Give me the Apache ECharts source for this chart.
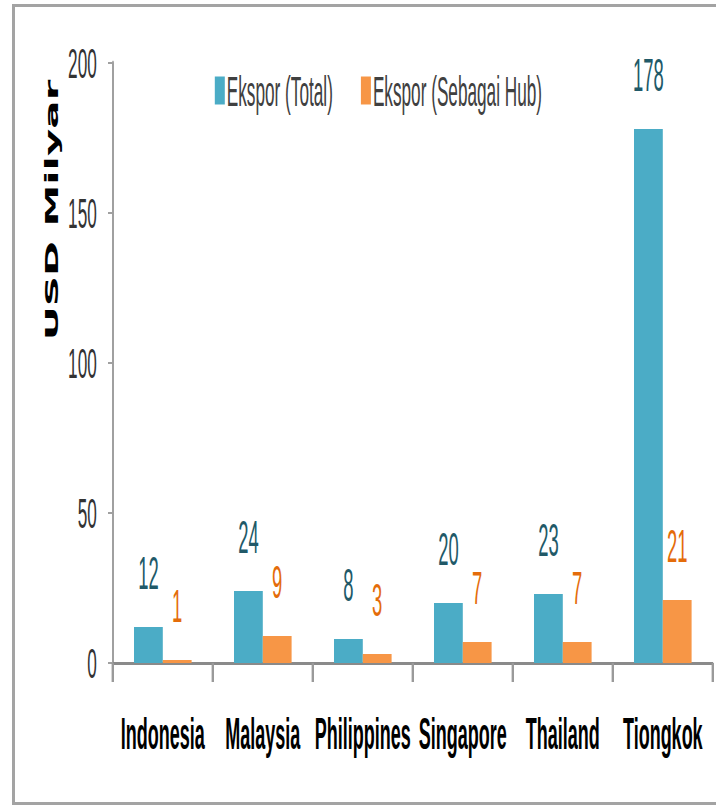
<!DOCTYPE html>
<html>
<head>
<meta charset="utf-8">
<script src="https://cdn.jsdelivr.net/npm/echarts/dist/echarts.min.js"></script>
<style>
  html, body { margin: 0; padding: 0; background: #fff; overflow: hidden; }
  #frame {
    position: absolute; left: 12px; top: 4px; width: 730px; height: 795px;
    border: 3px solid #a3a3a3; box-sizing: content-box;
  }
  /* the reference picture is squeezed horizontally, so the chart is drawn wider and scaled down */
  #chart {
    position: absolute; left: 0; top: 0; width: 1790px; height: 806px;
    transform: scaleX(0.4); transform-origin: 0 0;
  }
</style>
</head>
<body>
<div id="frame"></div>
<div id="chart"></div>
<script>
var categories = ['Indonesia', 'Malaysia', 'Philippines', 'Singapore', 'Thailand', 'Tiongkok']
var eksporTotal = [12, 24, 8, 20, 23, 178]
var eksporHub = [1, 9, 3, 7, 7, 21]
var seriesNames = ['Ekspor (Total)', 'Ekspor (Sebagai Hub)']
var yMin = 0
var yMax = 200
var yStep = 50

var sans = "'Liberation Sans', Arial, sans-serif"

var myChart = echarts.init(document.getElementById('chart'), null, { renderer: 'svg' })

var option = {
  animation: false,
  color: ['#4bacc6', '#f79646'],
  grid: { left: 282, right: 8, top: 63, bottom: 143, containLabel: false },
  legend: {
    data: seriesNames,
    left: 532,
    top: 64,
    icon: 'rect',
    itemWidth: 25,
    itemHeight: 28,
    itemGap: 70,
    textStyle: { fontFamily: sans, fontSize: 43, color: '#404040' }
  },
  graphic: [
    {
      type: 'text',
      x: 130,
      y: 210,
      rotation: Math.PI / 2,
      style: {
        text: 'USD Milyar',
        fontFamily: "'DejaVu Sans', sans-serif",
        fontWeight: 'bold',
        fontSize: 42,
        fill: '#000',
        align: 'center',
        verticalAlign: 'middle'
      }
    }
  ],
  xAxis: {
    type: 'category',
    data: categories,
    axisLine: { lineStyle: { color: '#8a8a8a', width: 3 } },
    axisTick: { show: true, inside: false, length: 19, lineStyle: { color: '#9a9a9a', width: 6 } },
    axisLabel: {
      interval: 0,
      margin: 48,
      fontFamily: sans,
      fontWeight: 'bold',
      fontSize: 45,
      color: '#000'
    }
  },
  yAxis: {
    type: 'value',
    min: yMin,
    max: yMax,
    interval: yStep,
    splitLine: { show: false },
    axisLine: { show: true, lineStyle: { color: '#a0a0a0', width: 5 } },
    axisTick: { show: true, inside: false, length: 12, lineStyle: { color: '#a0a0a0', width: 2 } },
    axisLabel: { margin: 40, fontFamily: sans, fontSize: 43, color: '#333' }
  },
  series: [
    {
      name: seriesNames[0],
      type: 'bar',
      data: eksporTotal,
      barWidth: 72,
      barGap: '0%',
      label: {
        show: true,
        position: 'top',
        distance: 31,
        fontFamily: sans,
        fontSize: 46,
        color: '#215968'
      }
    },
    {
      name: seriesNames[1],
      type: 'bar',
      data: eksporHub,
      barWidth: 72,
      barGap: '0%',
      label: {
        show: true,
        position: 'top',
        distance: 31,
        fontFamily: sans,
        fontSize: 46,
        color: '#e46c0a'
      }
    }
  ]
}

myChart.setOption(option)
</script>
</body>
</html>
